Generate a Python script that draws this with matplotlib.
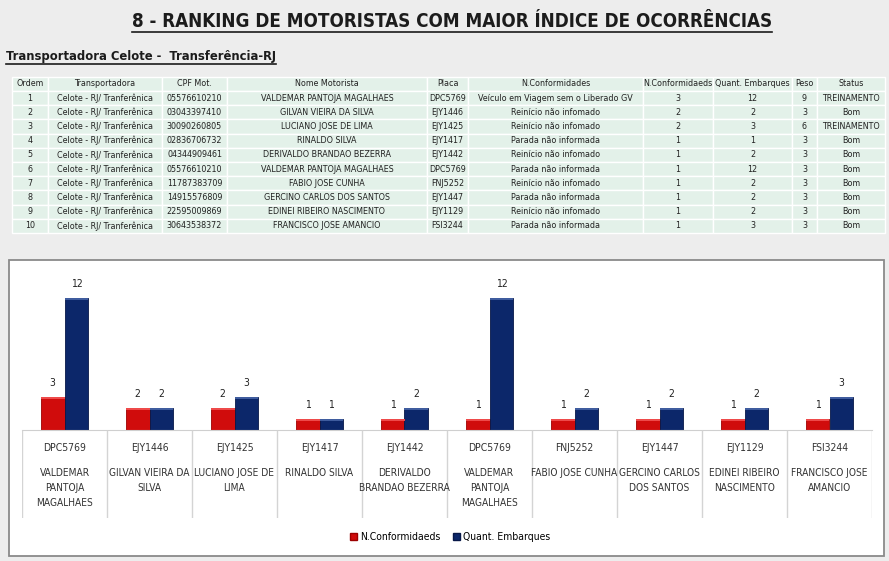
import matplotlib.pyplot as plt
from matplotlib.patches import Rectangle, Patch
from matplotlib.lines import Line2D
from matplotlib import font_manager
import numpy as np

# dados da tabela
ordem = list(range(1, 11))
transportadora = ['Celote - RJ/ Tranferênica'] * 10
cpf = ['05576610210', '03043397410', '30090260805', '02836706732', '04344909461',
       '05576610210', '11787383709', '14915576809', '22595009869', '30643538372']
nomes = ['VALDEMAR PANTOJA MAGALHAES', 'GILVAN VIEIRA DA SILVA', 'LUCIANO JOSE DE LIMA',
         'RINALDO SILVA', 'DERIVALDO BRANDAO BEZERRA', 'VALDEMAR PANTOJA MAGALHAES',
         'FABIO JOSE CUNHA', 'GERCINO CARLOS DOS SANTOS', 'EDINEI RIBEIRO NASCIMENTO',
         'FRANCISCO JOSE AMANCIO']
placas = ['DPC5769', 'EJY1446', 'EJY1425', 'EJY1417', 'EJY1442',
          'DPC5769', 'FNJ5252', 'EJY1447', 'EJY1129', 'FSI3244']
desc_conf = ['Veículo em Viagem sem o Liberado GV', 'Reinício não infomado', 'Reinício não infomado',
             'Parada não informada', 'Reinício não infomado', 'Parada não informada',
             'Reinício não infomado', 'Parada não informada', 'Reinício não infomado',
             'Parada não informada']
n_conf = [3, 2, 2, 1, 1, 1, 1, 1, 1, 1]
embarques = [12, 2, 3, 1, 2, 12, 2, 2, 2, 3]
peso = [9, 3, 6, 3, 3, 3, 3, 3, 3, 3]
status = ['TREINAMENTO', 'Bom', 'TREINAMENTO', 'Bom', 'Bom', 'Bom', 'Bom', 'Bom', 'Bom', 'Bom']
cabecalho = ['Ordem', 'Transportadora', 'CPF Mot.', 'Nome Motorista', 'Placa', 'N.Conformidades',
             'N.Conformidaeds', 'Quant. Embarques', 'Peso', 'Status']

# rotulos do grafico (nomes quebrados como no original)
rotulos = ['VALDEMAR\nPANTOJA\nMAGALHAES', 'GILVAN VIEIRA DA\nSILVA', 'LUCIANO JOSE DE\nLIMA',
           'RINALDO SILVA', 'DERIVALDO\nBRANDAO BEZERRA', 'VALDEMAR\nPANTOJA\nMAGALHAES',
           'FABIO JOSE CUNHA', 'GERCINO CARLOS\nDOS SANTOS', 'EDINEI RIBEIRO\nNASCIMENTO',
           'FRANCISCO JOSE\nAMANCIO']
serie1 = 'N.Conformidaeds'
serie2 = 'Quant. Embarques'

# fonte estreita se existir
disp = {f.name for f in font_manager.fontManager.ttflist}
estreita = 'Liberation Sans Narrow' if 'Liberation Sans Narrow' in disp else 'DejaVu Sans'
plt.rcParams['font.family'] = ['DejaVu Sans']

W, H = 889, 561
fig = plt.figure(figsize=(W / 100, H / 100), dpi=100, facecolor='#ededed')

def fx(x):
    return x / W

def fy(y):
    return 1 - y / H

bg = fig.add_axes([0, 0, 1, 1])
bg.set_xlim(0, W)
bg.set_ylim(H, 0)
bg.axis('off')
bg.set_zorder(0)

# titulo e subtitulo sublinhados
r = fig.canvas.get_renderer()
def sublinhado(x, y, txt, size, ha):
    t = bg.text(x, y, txt, fontsize=size, fontweight='bold', family=estreita,
                fontstretch='condensed', ha=ha, va='center', color='#1c1c1c')
    bb = t.get_window_extent(r).transformed(bg.transData.inverted())
    bg.add_line(Line2D([bb.x0, bb.x1], [bb.y0 + 1, bb.y0 + 1], color='#1c1c1c', lw=1.2))

sublinhado(452, 21, '8 - RANKING DE MOTORISTAS COM MAIOR ÍNDICE DE OCORRÊNCIAS', 13.5, 'center')
sublinhado(6, 56, 'Transportadora Celote -  Transferência-RJ', 9.3, 'left')

# tabela
bordas = [12, 48, 162, 227, 427, 468, 643, 713, 792, 817, 885]
topo = 76.8
alt = 14.2
linhas = [cabecalho] + [[str(ordem[i]), transportadora[i], cpf[i], nomes[i], placas[i], desc_conf[i],
                         str(n_conf[i]), str(embarques[i]), str(peso[i]), status[i]] for i in range(10)]
for li, linha in enumerate(linhas):
    y0 = topo + li * alt
    for c, txt in enumerate(linha):
        x0, x1 = bordas[c], bordas[c + 1]
        bg.add_patch(Rectangle((x0, y0), x1 - x0, alt, facecolor='#e3f1e9', edgecolor='white', lw=1))
        bg.text((x0 + x1) / 2, y0 + alt / 2, txt, fontsize=6.4, ha='center', va='center',
                color='#222222', family=estreita, fontstretch='condensed')

# caixa do grafico
bg.add_patch(Rectangle((9, 260), 875, 296, facecolor='white', edgecolor='#8a8a8a', lw=1.3))

# barras
ax = fig.add_axes([fx(22), fy(430), 850 / W, 160 / H])
ax.set_facecolor('none')
ax.set_xlim(-0.5, 9.5)
ax.set_ylim(0, 160 / 11)
for s in ['top', 'left', 'right']:
    ax.spines[s].set_visible(False)
ax.spines['bottom'].set_color('#cfcfcf')
ax.set_xticks([])
ax.set_yticks([])

x = np.arange(len(placas))
w = 0.28
b1 = ax.bar(x - w / 2, n_conf, w, color='#d00c0c', edgecolor='#9c0000', lw=0.6)
b2 = ax.bar(x + w / 2, embarques, w, color='#0c276a', edgecolor='#071848', lw=0.6)
faixa = 0.22
ax.bar(x - w / 2, faixa, w, bottom=np.array(n_conf) - faixa, color='#ee4a4a', lw=0)
ax.bar(x + w / 2, faixa, w, bottom=np.array(embarques) - faixa, color='#3f5c9e', lw=0)
for xi, v in zip(x - w / 2, n_conf):
    ax.annotate(str(v), (xi, v), xytext=(0, 10), textcoords='offset points', ha='center',
                va='center', fontsize=7.5, color='#222222', family=estreita, fontstretch='condensed')
for xi, v in zip(x + w / 2, embarques):
    ax.annotate(str(v), (xi, v), xytext=(0, 10), textcoords='offset points', ha='center',
                va='center', fontsize=7.5, color='#222222', family=estreita, fontstretch='condensed')

# area de rotulos das categorias
lab = fig.add_axes([fx(22), fy(518), 850 / W, 88 / H])
lab.set_facecolor('none')
lab.set_xlim(-0.5, 9.5)
lab.set_ylim(88, 0)
lab.axis('off')
lab.vlines(np.arange(len(placas) + 1) - 0.5, 0, 88, color='#d4d4d4', lw=1)
for xi, p, n in zip(x, placas, rotulos):
    lab.text(xi, 18, p, ha='center', va='center', fontsize=7.5, color='#333333',
             family=estreita, fontstretch='condensed')
    lab.text(xi, 38, n, ha='center', va='top', fontsize=7.3, color='#333333',
             family=estreita, fontstretch='condensed', linespacing=1.6)

ax.legend([Patch(facecolor='#d00c0c', edgecolor='#9c0000'), Patch(facecolor='#0c276a', edgecolor='#071848')],
          [serie1, serie2], loc='center', bbox_to_anchor=(fx(450), fy(537)), bbox_transform=fig.transFigure,
          ncol=2, frameon=False, prop={'family': estreita, 'size': 7.5, 'stretch': 'condensed'},
          handlelength=0.7, handleheight=0.7, handletextpad=0.3, columnspacing=1.2)

fig.savefig('out.png', dpi=100, facecolor=fig.get_facecolor())
